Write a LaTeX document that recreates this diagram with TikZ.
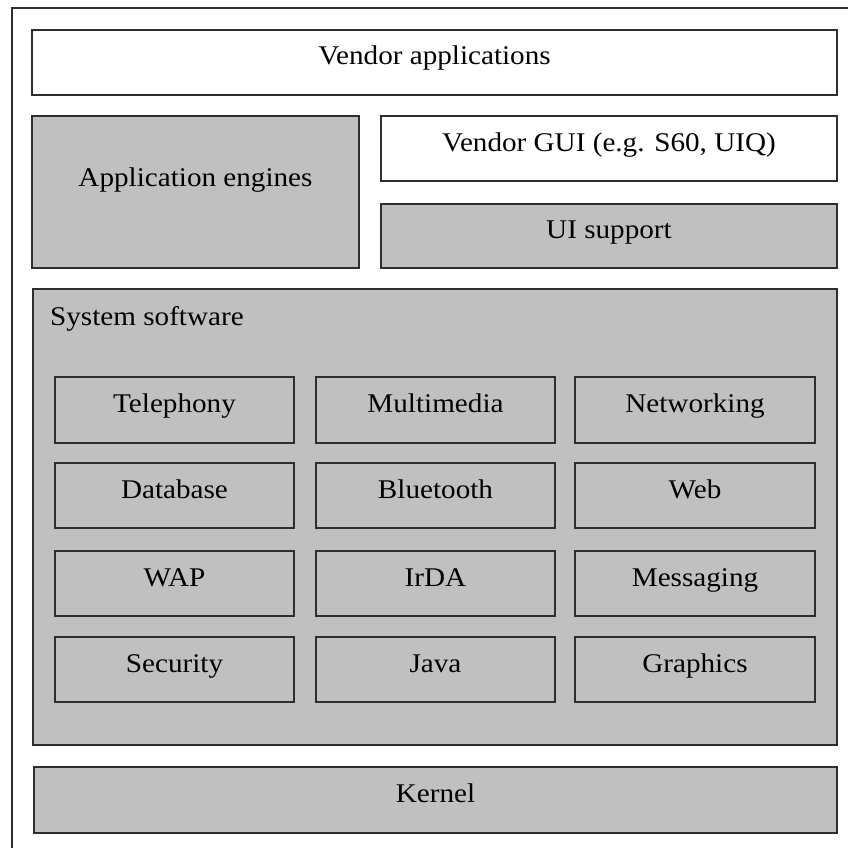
\documentclass[tikz,border=0pt]{standalone}
\usepackage{fontspec}
\setmainfont[FakeStretch=1.08]{Liberation Serif}
\usetikzlibrary{fit}
\definecolor{panel}{HTML}{C0C0C0}
\definecolor{edge}{HTML}{2E2E2E}
\tikzset{
  blk/.style={draw=edge, line width=1.4pt, inner sep=0pt, rectangle},
  whiteblk/.style={blk, fill=white},
  grayblk/.style={blk, fill=panel},
  caption/.style={font=\fontsize{27}{32}\selectfont, text=black, inner sep=0pt, anchor=base},
}
\begin{document}
\begin{tikzpicture}[x=1pt, y=-1pt]
  \useasboundingbox[fill=white] (0,0) rectangle (848,848);
  % outer frame (runs off the right and bottom edges)
  \draw[edge, line width=1.2pt] (12,848) -- (12,8) -- (848,8);

  % top layers
  \node[whiteblk, fit={(32,30) (837,95)}] (vapps) {};
  \node[caption] (vappsT) at ([yshift=-2.5pt]vapps.center) {Vendor applications};

  \node[grayblk, fit={(32,116) (359,268)}] (engines) {};
  \node[caption] (enginesT) at ([yshift=6pt]engines.center) {Application engines};

  \node[whiteblk, fit={(381,116) (837,181)}] (vgui) {};
  \node[caption] (vguiT) at ([yshift=-2.5pt]vgui.center) {Vendor GUI (e.g. S60, UIQ)};

  \node[grayblk, fit={(381,204) (837,268)}] (uisup) {};
  \node[caption] (uisupT) at ([yshift=-2.5pt]uisup.center) {UI support};

  % system software container
  \node[grayblk, fit={(33,289) (837,745)}] (syssw) {};
  \node[caption, anchor=base west] (sysswT) at (50,325) {System software};

  % component grid
  \foreach \r/\ya/\yb in {1/377/443, 2/463/528, 3/551/616, 4/637/702} {
    \foreach \c/\xa/\xb in {1/55/294, 2/316/555, 3/575/815} {
      \node[blk, fit={(\xa,\ya) (\xb,\yb)}] (cell-\r-\c) {};
    }
  }
  \foreach \r/\c/\t in {
    1/1/Telephony, 1/2/Multimedia, 1/3/Networking,
    2/1/Database, 2/2/Bluetooth, 2/3/Web,
    3/1/WAP, 3/2/IrDA, 3/3/Messaging,
    4/1/Security, 4/2/Java, 4/3/Graphics} {
    \node[caption] (lbl-\r-\c) at ([yshift=-2.5pt]cell-\r-\c.center) {\t};
  }

  % kernel
  \node[grayblk, fit={(34,767) (837,833)}] (kernel) {};
  \node[caption] (kernelT) at ([yshift=-2.5pt]kernel.center) {Kernel};
\end{tikzpicture}
\end{document}
